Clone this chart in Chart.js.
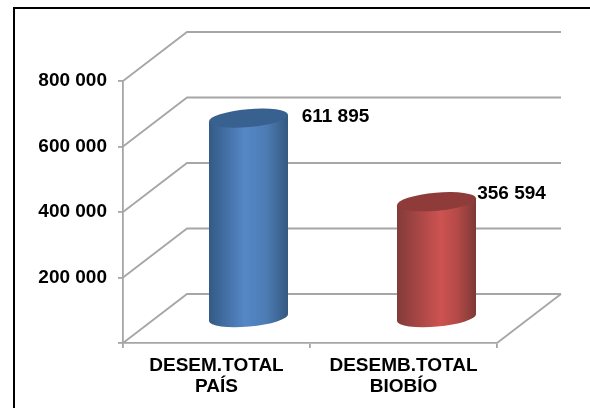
<!DOCTYPE html>
<html>
<head>
<meta charset="utf-8">
<script src="https://cdn.jsdelivr.net/npm/chart.js@4"></script>
<style>
    html, body { margin: 0; padding: 0; background: #fff; }
    #wrap { position: relative; width: 590px; height: 408px; overflow: hidden; }
    #frame { position: absolute; left: 13px; top: 7px; right: -5px; bottom: -5px; border-left: 2px solid #000; border-top: 2px solid #000; }
    canvas { position: absolute; left: 0; top: 0; }
</style>
</head>
<body>
<div id="wrap">
    <div id="frame"></div>
    <canvas id="chart1" width="590" height="408"></canvas>
</div>
<script>
var categories = [['DESEM.TOTAL', 'PAÍS'], ['DESEMB.TOTAL', 'BIOBÍO']];
var values = [611895, 356594];
var yTicks = [0, 200000, 400000, 600000, 800000];

var bodyStops = [
    [[0, '#335a85'], [0.45, '#5587c7'], [0.72, '#4d7cb5'], [1, '#34597f']],
    [[0, '#823b39'], [0.55, '#cd5351'], [0.76, '#b54a48'], [1, '#7d3937']]
];
var topColors = ['#38618f', '#8f3b3a'];
var labelOffsets = [[87, -1], [75, -8]];

var depthX = 64, depthY = 49, tilt = -5 * Math.PI / 180;
var gridColor = '#a6a6a6';
var fontName = '"Liberation Sans", Arial, sans-serif';

function spaced(v) {
    return String(v).replace(/\B(?=(\d{3})+$)/g, ' ');
}

// side walls and floor of the 3d box
var box3d = {
    id: 'box3d',
    beforeDatasetsDraw: function(chart) {
        var c = chart.ctx, a = chart.chartArea, y = chart.scales.y;
        c.save();
        c.strokeStyle = gridColor;
        c.lineWidth = 1.8;
        yTicks.forEach(function(t) {
            var py = y.getPixelForValue(t);
            c.beginPath();
            c.moveTo(a.left, py);
            c.lineTo(a.left + depthX, py - depthY);
            c.lineTo(a.right + depthX, py - depthY);
            c.stroke();
        });
        c.beginPath();
        c.moveTo(a.right, a.bottom);
        c.lineTo(a.right + depthX, a.bottom - depthY);
        c.stroke();
        c.restore();
    }
};

// cylinders and value labels, placed from the bar elements
var cylinders = {
    id: 'cylinders',
    afterDatasetsDraw: function(chart) {
        var c = chart.ctx;
        chart.getDatasetMeta(0).data.forEach(function(bar, i) {
            var cx = bar.x + depthX / 2 + (i === 1 ? 1 : 0);
            var topY = bar.y - depthY / 2;
            var baseY = bar.base - depthY / 2;
            var rx = bar.width / 2 / Math.cos(tilt);
            var ry = 9;
            var dy = bar.width / 2 * Math.tan(tilt);

            var g = c.createLinearGradient(cx - bar.width / 2, 0, cx + bar.width / 2, 0);
            bodyStops[i].forEach(function(s) { g.addColorStop(s[0], s[1]); });

            c.save();
            c.beginPath();
            c.moveTo(cx - bar.width / 2, topY - dy);
            c.lineTo(cx - bar.width / 2, baseY - dy);
            c.ellipse(cx, baseY, rx, ry, tilt, Math.PI, 0, true);
            c.lineTo(cx + bar.width / 2, topY + dy);
            c.closePath();
            c.fillStyle = g;
            c.fill();

            c.beginPath();
            c.ellipse(cx, topY, rx, ry, tilt, 0, Math.PI * 2);
            c.fillStyle = topColors[i];
            c.fill();

            c.fillStyle = '#000';
            c.font = 'bold 19px ' + fontName;
            c.textAlign = 'center';
            c.textBaseline = 'middle';
            c.fillText(spaced(values[i]), cx + labelOffsets[i][0], topY + labelOffsets[i][1]);
            c.restore();
        });
    }
};

var ctx = document.getElementById('chart1').getContext('2d');
var myChart = new Chart(ctx, {
    type: 'bar',
    data: {
        labels: categories,
        datasets: [{
            data: values,
            backgroundColor: 'rgba(0,0,0,0)',
            categoryPercentage: 1,
            barPercentage: 0.4225
        }]
    },
    options: {
        responsive: false,
        animation: false,
        events: [],
        layout: { padding: { left: 30, top: 81, right: 93, bottom: 0 } },
        plugins: {
            legend: { display: false },
            tooltip: { enabled: false }
        },
        scales: {
            x: {
                afterFit: function(scale) { scale.height = 65; },
                grid: { drawOnChartArea: false, tickLength: 5, color: gridColor, lineWidth: 1.8 },
                border: { color: gridColor, width: 1.8 },
                ticks: {
                    color: '#000',
                    maxRotation: 0,
                    autoSkip: false,
                    padding: 7,
                    font: { family: fontName, size: 19, weight: 'bold', lineHeight: 1.13 }
                }
            },
            y: {
                min: 0,
                max: 800000,
                afterFit: function(scale) { scale.width = 93; },
                afterBuildTicks: function(scale) {
                    scale.ticks = yTicks.map(function(v) { return { value: v }; });
                },
                grid: { drawOnChartArea: false, tickLength: 5, color: gridColor, lineWidth: 1.8 },
                border: { color: gridColor, width: 1.8 },
                ticks: {
                    color: '#000',
                    padding: 11,
                    font: { family: fontName, size: 19, weight: 'bold' },
                    callback: function(v) { return v === 0 ? '' : spaced(v); }
                }
            }
        }
    },
    plugins: [box3d, cylinders]
});
</script>
</body>
</html>
